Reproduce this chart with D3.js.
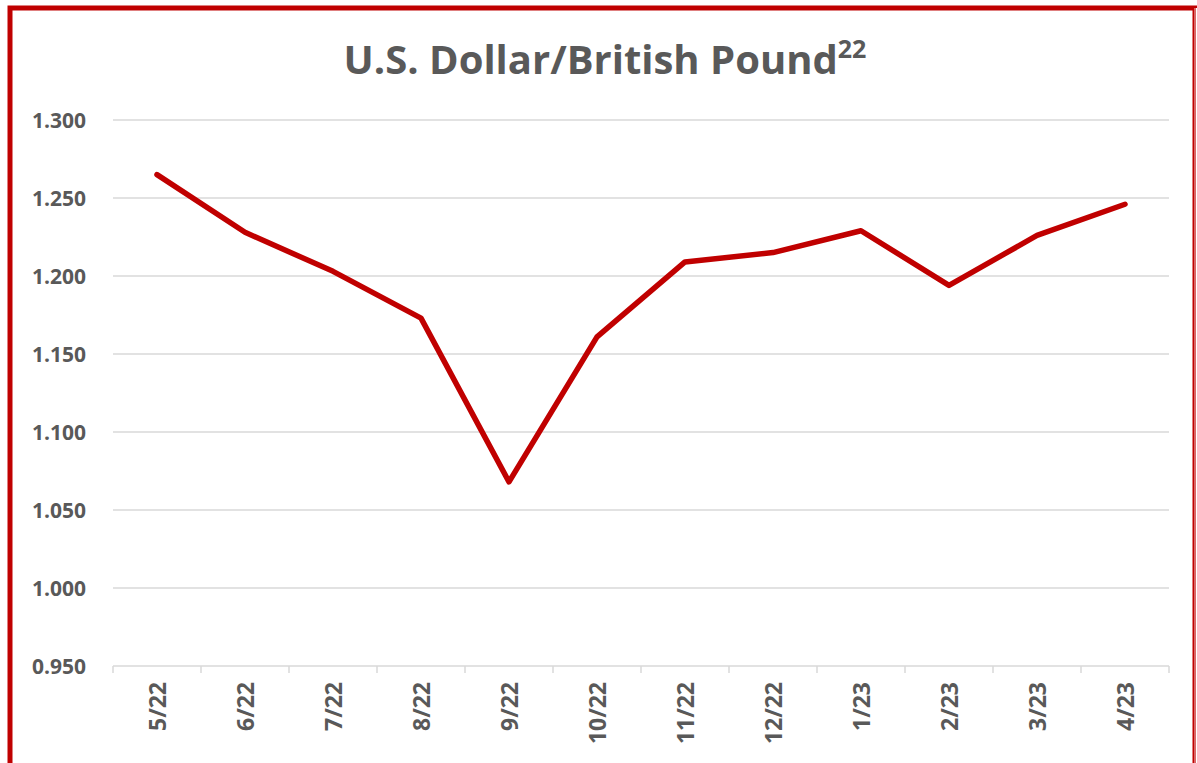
<!DOCTYPE html>
<html>
<head>
<meta charset="utf-8">
<script src="https://cdn.jsdelivr.net/npm/d3@7"></script>
<style>
  body { margin: 0; background: #fff; }
  text { font-family: "Open Sans", "Noto Sans", sans-serif; }
</style>
</head>
<body>
<div id="chart"></div>
<script>
// monthly USD per GBP
const months = ['5/22', '6/22', '7/22', '8/22', '9/22', '10/22', '11/22', '12/22', '1/23', '2/23', '3/23', '4/23'];
const rates = [1.265, 1.228, 1.203, 1.173, 1.068, 1.161, 1.209, 1.215, 1.229, 1.194, 1.226, 1.246];
const yTicks = [0.95, 1.0, 1.05, 1.1, 1.15, 1.2, 1.25, 1.3];

const width = 1197, height = 763;
const margin = {top: 120, right: 28, bottom: 97, left: 113};

const svg = d3.select('#chart').append('svg')
  .attr('width', width)
  .attr('height', height);

// frame
svg.append('rect')
  .attr('x', 10).attr('y', 8)
  .attr('width', 1185).attr('height', 760)
  .attr('fill', 'none')
  .attr('stroke', '#C00000')
  .attr('stroke-width', 5);
svg.append('line')
  .attr('x1', 1195.5).attr('x2', 1195.5).attr('y1', 8).attr('y2', 763)
  .attr('stroke', '#fff').attr('stroke-width', 3);
svg.append('line')
  .attr('x1', 1195).attr('x2', 1195).attr('y1', 8).attr('y2', 763)
  .attr('stroke', '#C00000').attr('stroke-width', 1.2);

let x = d3.scaleBand()
  .domain(months)
  .range([margin.left, width - margin.right]);

let y = d3.scaleLinear()
  .domain([0.95, 1.3])
  .range([height - margin.bottom, margin.top]);

// gridlines
svg.append('g')
  .selectAll('line')
  .data(yTicks)
  .enter().append('line')
    .attr('x1', margin.left)
    .attr('x2', width - margin.right)
    .attr('y1', d => y(d))
    .attr('y2', d => y(d))
    .attr('stroke', '#d9d9d9')
    .attr('stroke-width', 1.5);

// y labels
svg.append('g')
  .selectAll('text')
  .data(yTicks)
  .enter().append('text')
    .attr('x', 86)
    .attr('y', d => y(d))
    .attr('dy', '0.36em')
    .attr('text-anchor', 'end')
    .attr('fill', '#595959')
    .style('font-size', '21px')
    .style('font-weight', 'bold')
    .text(d => d3.format('.3f')(d));

// x axis ticks
let tickPos = months.map(m => x(m)).concat([x(months[months.length - 1]) + x.bandwidth()]);
svg.append('g')
  .selectAll('line')
  .data(tickPos)
  .enter().append('line')
    .attr('x1', d => d).attr('x2', d => d)
    .attr('y1', y(0.95)).attr('y2', y(0.95) + 7)
    .attr('stroke', '#d9d9d9')
    .attr('stroke-width', 1.5);

svg.append('g')
  .selectAll('text')
  .data(months)
  .enter().append('text')
    .attr('transform', d => `translate(${x(d) + x.bandwidth() / 2 + 9},${y(0.95) + 16}) rotate(-90)`)
    .attr('text-anchor', 'end')
    .attr('fill', '#595959')
    .style('font-size', '23px')
    .style('font-weight', 'bold')
    .text(d => d);

// line
let line = d3.line()
  .x((d, i) => x(months[i]) + x.bandwidth() / 2)
  .y(d => y(d));

svg.append('path')
  .datum(rates)
  .attr('d', line)
  .attr('fill', 'none')
  .attr('stroke', '#C00000')
  .attr('stroke-width', 5.5)
  .attr('stroke-linecap', 'round')
  .attr('stroke-linejoin', 'round');

// title
let title = svg.append('text')
  .attr('x', 605)
  .attr('y', 74)
  .attr('text-anchor', 'middle')
  .attr('fill', '#595959')
  .style('font-size', '40px')
  .style('font-weight', 'bold');
title.append('tspan').text('U.S. Dollar/British Pound');
title.append('tspan')
  .attr('dy', -16)
  .style('font-size', '25px')
  .text('22');
</script>
</body>
</html>
